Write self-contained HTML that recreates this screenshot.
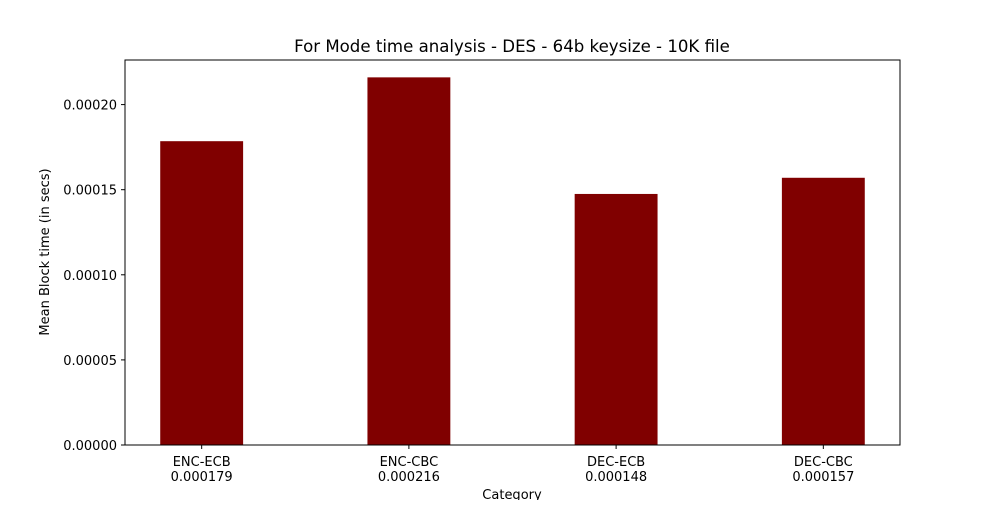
<!DOCTYPE html>
<html><head><meta charset="utf-8"><style>
body{margin:0;background:#fff;font-family:"Liberation Sans","DejaVu Sans",sans-serif}
svg text{font-family:"DejaVu Sans","Liberation Sans",sans-serif}
</style></head><body>
<svg id="chart" width="1000" height="500">
<rect width="1000" height="500" fill="#fff"/>
<text x="512" y="52" font-size="16.6" text-anchor="middle">For Mode time analysis - DES - 64b keysize - 10K file</text>
<g id="bars"></g><g id="yticks"></g><g id="xticks"></g>
<rect x="125" y="60" width="775" height="385" fill="none" stroke="#000" stroke-width="1"/>
<text x="512" y="499" font-size="13" text-anchor="middle">Category</text>
<text transform="translate(49,252) rotate(-90)" font-size="13" text-anchor="middle">Mean Block time (in secs)</text>
</svg>
<script>
const categories=["ENC-ECB","ENC-CBC","DEC-ECB","DEC-CBC"];
const values=[0.0001785,0.000216,0.0001475,0.000157];
const valueLabels=["0.000179","0.000216","0.000148","0.000157"];
const yTicks=[0,0.00005,0.0001,0.00015,0.0002];
const yTickLabels=["0.00000","0.00005","0.00010","0.00015","0.00020"];
const L=125,R=900,T=60,B=445,ymax=0.0002262,xmin=-0.37,xmax=3.37,bw=0.4;
const ns="http://www.w3.org/2000/svg";
const X=v=>L+(v-xmin)/(xmax-xmin)*(R-L);
const Y=v=>B-v/ymax*(B-T);
function mk(t,a,p){const e=document.createElementNS(ns,t);for(const k in a)e.setAttribute(k,a[k]);document.getElementById(p).appendChild(e);return e;}
values.forEach((v,i)=>{
 const r=mk('rect',{x:X(i-bw/2),y:Y(v),width:X(i+bw/2)-X(i-bw/2),height:B-Y(v),fill:'#800000'},'bars');
 
 
 const tk=mk('line',{x1:X(i),x2:X(i),y1:B,y2:B+4,stroke:'#000'},'xticks');
 
 
 const t=mk('text',{x:X(i),y:B+21,'font-size':13,'text-anchor':'middle'},'xticks');
 
 
 const s1=document.createElementNS(ns,'tspan');s1.setAttribute('x',X(i));s1.textContent=categories[i];t.appendChild(s1);
 const s2=document.createElementNS(ns,'tspan');s2.setAttribute('x',X(i));s2.setAttribute('dy','15');s2.textContent=valueLabels[i];t.appendChild(s2);
});
yTicks.forEach((v,i)=>{
 const tk=mk('line',{x1:L-4,x2:L,y1:Y(v),y2:Y(v),stroke:'#000'},'yticks');
 
 
 const t=mk('text',{x:L-8,y:Y(v)+5,'font-size':13,'text-anchor':'end'},'yticks');
 
 
 t.textContent=yTickLabels[i];
});
</script>
</body></html>
